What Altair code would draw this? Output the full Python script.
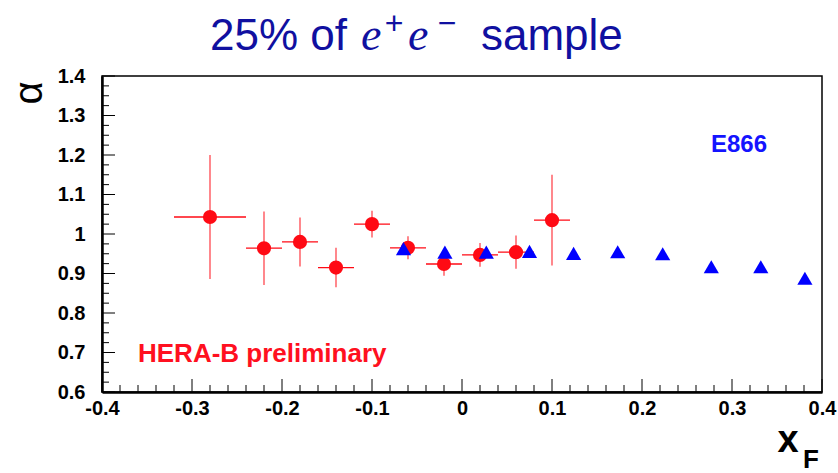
import altair as alt
import pandas as pd

# ---------------- data ----------------
hb_x = [-0.28, -0.22, -0.18, -0.14, -0.10, -0.06, -0.02, 0.02, 0.06, 0.10]
hb_xerr = [0.04, 0.02, 0.02, 0.02, 0.02, 0.02, 0.02, 0.02, 0.02, 0.02]
hb_y = [1.043, 0.964, 0.980, 0.915, 1.025, 0.965, 0.924, 0.947, 0.954, 1.035]
hb_yerr = [0.157, 0.093, 0.062, 0.050, 0.034, 0.029, 0.030, 0.030, 0.042, 0.115]

e866_x = [-0.065, -0.019, 0.027, 0.075, 0.124, 0.173, 0.223, 0.277, 0.332, 0.381]
e866_y = [0.963, 0.954, 0.954, 0.956, 0.951, 0.955, 0.950, 0.917, 0.917, 0.888]

x_major = [-0.4, -0.3, -0.2, -0.1, 0.0, 0.1, 0.2, 0.3, 0.4]
x_minor = [-0.38, -0.36, -0.34, -0.32, -0.28, -0.26, -0.24, -0.22,
           -0.18, -0.16, -0.14, -0.12, -0.08, -0.06, -0.04, -0.02,
           0.02, 0.04, 0.06, 0.08, 0.12, 0.14, 0.16, 0.18,
           0.22, 0.24, 0.26, 0.28, 0.32, 0.34, 0.36, 0.38]
y_major = [0.6, 0.7, 0.8, 0.9, 1.0, 1.1, 1.2, 1.3, 1.4]
y_minor = [0.625, 0.65, 0.675, 0.725, 0.75, 0.775, 0.825, 0.85, 0.875,
           0.925, 0.95, 0.975, 1.025, 1.05, 1.075, 1.125, 1.15, 1.175,
           1.225, 1.25, 1.275, 1.325, 1.35, 1.375]

title_parts = ["25% of", "e", "+", "e", "\u2212", "sample"]
y_title = "\u03b1"
x_title = ["x", "F"]
label_e866 = "E866"
label_hb = "HERA-B preliminary"

# ---------------- layout ----------------
W, H = 720, 316
RED = "#ff0a14"
BLUE = "#0000ff"
TITLE_BLUE = "#1010a0"
FONT = "Liberation Sans"

xscale = alt.Scale(domain=[-0.4, 0.4], nice=False, zero=False)
yscale = alt.Scale(domain=[0.6, 1.4], nice=False, zero=False)
lab = "replace(format(datum.value, '~g'), '\u2212', '-')"

xaxis = alt.Axis(values=x_major, ticks=False, grid=False, title=None,
                 domain=True, domainColor="black", domainWidth=2.5,
                 labelFont=FONT, labelFontWeight="bold", labelFontSize=20,
                 labelColor="black", labelPadding=6, labelFlush=False,
                 labelOverlap=False, labelExpr=lab)
yaxis = alt.Axis(values=y_major, ticks=False, grid=False, title=None,
                 domain=True, domainColor="black", domainWidth=2.5,
                 labelFont=FONT, labelFontWeight="bold", labelFontSize=20,
                 labelColor="black", labelPadding=17, labelFlush=False,
                 labelOverlap=False, labelExpr=lab)


def X(field, **kw):
    return alt.X(field, type="quantitative", scale=xscale, axis=xaxis, **kw)


def Y(field, **kw):
    return alt.Y(field, type="quantitative", scale=yscale, axis=yaxis, **kw)


hb = pd.DataFrame({"x": hb_x, "y": hb_y})
hb["xlo"] = [a - b for a, b in zip(hb_x, hb_xerr)]
hb["xhi"] = [a + b for a, b in zip(hb_x, hb_xerr)]
hb["ylo"] = [a - b for a, b in zip(hb_y, hb_yerr)]
hb["yhi"] = [a + b for a, b in zip(hb_y, hb_yerr)]
e866 = pd.DataFrame({"x": e866_x, "y": e866_y})

# ticks (inside, ROOT style)
xmaj = alt.Chart(pd.DataFrame({"v": x_major})).mark_rule(color="black", strokeWidth=1).encode(
    x=X("v"), y=alt.value(H - 13), y2=alt.value(H))
xmin = alt.Chart(pd.DataFrame({"v": x_minor})).mark_rule(color="black", strokeWidth=1).encode(
    x=X("v"), y=alt.value(H - 7), y2=alt.value(H))
ymaj = alt.Chart(pd.DataFrame({"v": y_major})).mark_rule(color="black", strokeWidth=1).encode(
    y=Y("v"), x=alt.value(0), x2=alt.value(13))
ymin = alt.Chart(pd.DataFrame({"v": y_minor})).mark_rule(color="black", strokeWidth=1).encode(
    y=Y("v"), x=alt.value(0), x2=alt.value(7))

hbar = alt.Chart(hb).mark_rule(color=RED, strokeWidth=1.3).encode(
    x=X("xlo"), x2="xhi", y=Y("y"))
vbar = alt.Chart(hb).mark_rule(color=RED, strokeWidth=1.3, opacity=0.75).encode(
    x=X("x"), y=Y("ylo"), y2="yhi")
circles = alt.Chart(hb).mark_point(shape="circle", filled=True, color=RED,
                                   size=200, opacity=1).encode(x=X("x"), y=Y("y"))
tris = alt.Chart(e866).mark_point(shape="triangle-up", filled=True, color=BLUE,
                                  size=230, opacity=1).encode(x=X("x"), y=Y("y"))


def text(t, x, y, size, color="black", font=FONT, weight="normal", style="normal",
         align="left", angle=0, baseline="alphabetic"):
    return alt.Chart(pd.DataFrame({"t": [t]})).mark_text(
        font=font, fontSize=size, fontWeight=weight, fontStyle=style, color=color,
        align=align, baseline=baseline, angle=angle).encode(
        text="t:N", x=alt.value(x), y=alt.value(y))


texts = [
    text(title_parts[0], 245, -26, 44, TITLE_BLUE, align="right"),
    text(title_parts[1], 259, -26, 46, TITLE_BLUE, font="Liberation Serif", style="italic"),
    text(title_parts[2], 292, -42, 32, TITLE_BLUE, align="center"),
    text(title_parts[3], 306, -26, 46, TITLE_BLUE, font="Liberation Serif", style="italic"),
    text(title_parts[4], 345, -42, 32, TITLE_BLUE, align="center"),
    text(title_parts[5], 379, -26, 44, TITLE_BLUE),
    text(y_title, -72, 17, 40, "black", align="center", angle=270, baseline="middle"),
    text(x_title[0], 686, 376, 38, "black", weight="bold", align="center"),
    text(x_title[1], 701, 392, 26, "black", weight="bold"),
    text(label_e866, 609, 76, 24, "#1414ff", weight="bold"),
    text(label_hb, 36, 286, 26, "#ff1020", weight="bold"),
]

chart = alt.layer(xmin, xmaj, ymin, ymaj, hbar, vbar, circles, tris, *texts).properties(
    width=W, height=H,
    padding={"left": 102, "top": 76, "right": 16, "bottom": 81},
    autosize=alt.AutoSizeParams(type="none"),
).configure_view(stroke="black", strokeWidth=1.5)

chart.save("out.html", embed_options={"renderer": "svg", "actions": False})
